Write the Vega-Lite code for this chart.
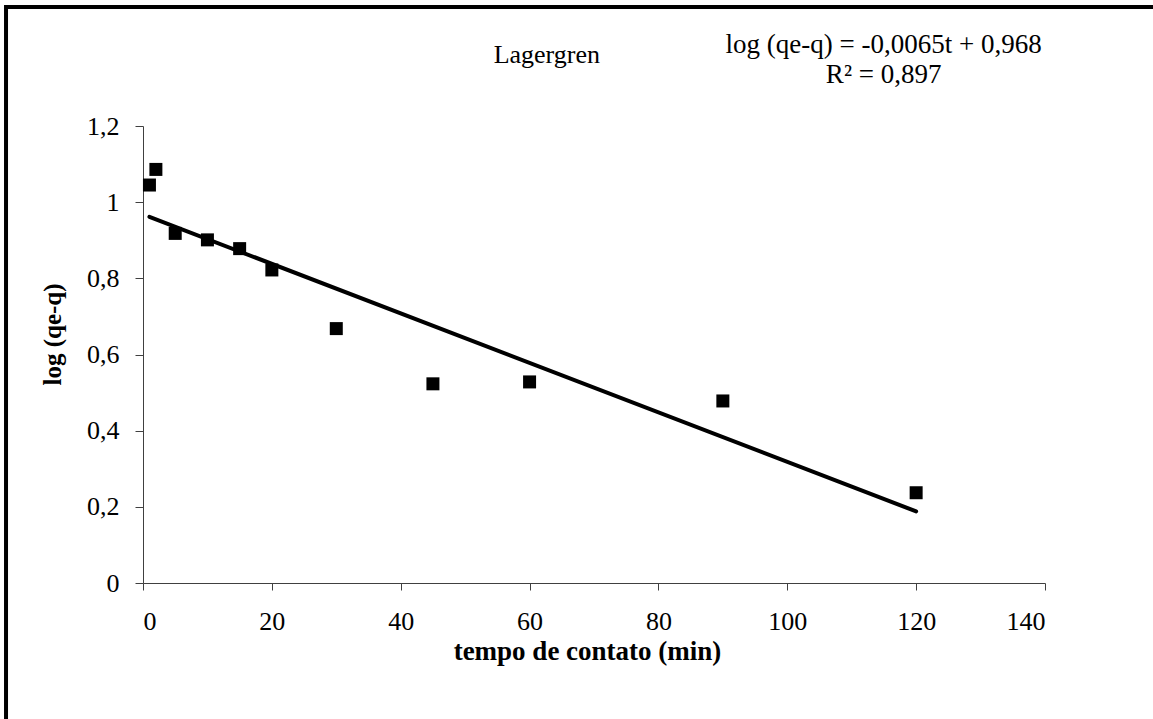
{
  "$schema": "https://vega.github.io/schema/vega-lite/v6.json",
  "autosize": {"type": "none"},
  "width": 902,
  "height": 457,
  "padding": {"left": 143, "top": 126, "right": 108, "bottom": 136},
  "background": "white",
  "config": {
    "view": {"stroke": null},
    "font": "Liberation Serif",
    "axis": {"grid": false, "domainColor": "#404040", "tickColor": "#404040", "labelFont": "Liberation Serif", "titleFont": "Liberation Serif", "labelColor": "black", "titleColor": "black", "labelFontSize": 26, "titleFontSize": 26, "titleFontWeight": "bold"}
  },
  "datasets": {
    "pts": [
      {"t": 1, "v": 1.045},
      {"t": 2, "v": 1.086},
      {"t": 5, "v": 0.918},
      {"t": 10, "v": 0.901},
      {"t": 15, "v": 0.878},
      {"t": 20, "v": 0.822},
      {"t": 30, "v": 0.668},
      {"t": 45, "v": 0.523},
      {"t": 60, "v": 0.528},
      {"t": 90, "v": 0.478},
      {"t": 120, "v": 0.237}
    ],
    "fit": [
      {"t": 1, "v": 0.9615},
      {"t": 120, "v": 0.188}
    ],
    "one": [{}]
  },
  "layer": [
    {
      "data": {"name": "one"},
      "mark": {"type": "rect", "fill": null, "filled": false, "stroke": "black", "strokeWidth": 4, "clip": false},
      "encoding": {
        "x": {"datum": -21.26, "type": "quantitative", "scale": {"domain": [0, 140], "nice": false, "zero": false}},
        "x2": {"datum": 158},
        "y": {"datum": 1.5126, "type": "quantitative", "scale": {"domain": [0, 1.2], "nice": false, "zero": false}},
        "y2": {"datum": -0.4}
      }
    },
    {
      "data": {"name": "fit"},
      "mark": {"type": "line", "color": "black", "strokeWidth": 4, "strokeCap": "round"},
      "encoding": {
        "x": {"field": "t", "type": "quantitative"},
        "y": {"field": "v", "type": "quantitative"}
      }
    },
    {
      "data": {"name": "pts"},
      "mark": {"type": "point", "shape": "square", "filled": true, "color": "black", "size": 169, "opacity": 1},
      "encoding": {
        "x": {
          "field": "t", "type": "quantitative",
          "scale": {"domain": [0, 140], "nice": false, "zero": false},
          "axis": {"values": [0, 20, 40, 60, 80, 100, 120, 140], "tickSize": 7, "labelPadding": 18, "title": "tempo de contato (min)", "titleFontSize": 27, "titleBaseline": "alphabetic", "titleY": 76, "titleX": 444}
        },
        "y": {
          "field": "v", "type": "quantitative",
          "scale": {"domain": [0, 1.2], "nice": false, "zero": false},
          "axis": {"values": [0, 0.2, 0.4, 0.6, 0.8, 1, 1.2], "tickSize": 8, "labelPadding": 16, "labelExpr": "replace(format(datum.value, '~g'), '.', ',')", "title": "log (qe-q)", "titleFontSize": 25, "titleAngle": -90, "titleBaseline": "alphabetic", "titleX": -83, "titleY": 208, "titleAlign": "center"}
        }
      }
    },
    {
      "data": {"name": "one"},
      "mark": {"type": "text", "text": "Lagergren", "align": "right", "baseline": "alphabetic", "fontSize": 26, "font": "Liberation Serif", "color": "black"},
      "encoding": {"x": {"datum": 70.93, "type": "quantitative"}, "y": {"datum": 1.3655, "type": "quantitative"}}
    },
    {
      "data": {"name": "one"},
      "mark": {"type": "text", "text": "log (qe-q) = -0,0065t + 0,968", "align": "center", "baseline": "alphabetic", "fontSize": 27, "font": "Liberation Serif", "color": "black"},
      "encoding": {"x": {"datum": 114.96, "type": "quantitative"}, "y": {"datum": 1.392, "type": "quantitative"}}
    },
    {
      "data": {"name": "one"},
      "mark": {"type": "text", "text": "R² = 0,897", "align": "center", "baseline": "alphabetic", "fontSize": 27, "font": "Liberation Serif", "color": "black"},
      "encoding": {"x": {"datum": 114.96, "type": "quantitative"}, "y": {"datum": 1.313, "type": "quantitative"}}
    }
  ]
}
